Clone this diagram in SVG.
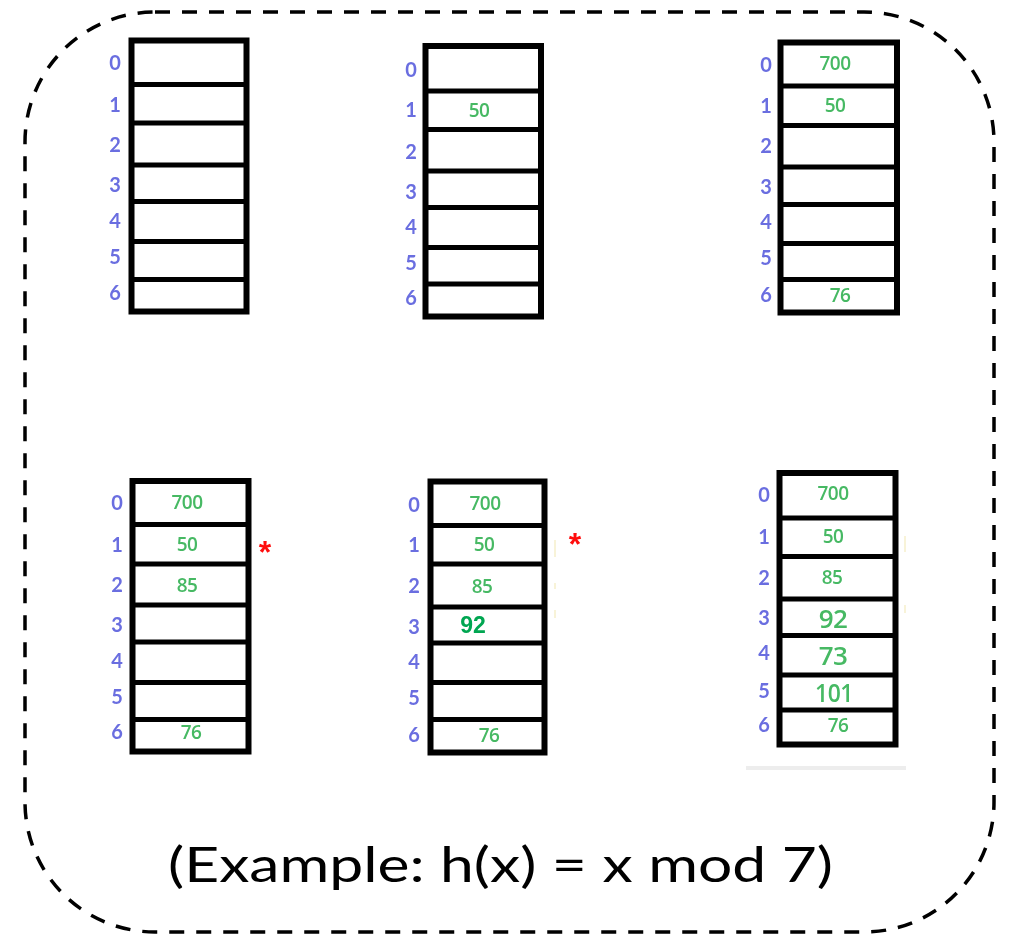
<svg xmlns="http://www.w3.org/2000/svg" width="1012" height="936" viewBox="0 0 1012 936">
  <style>
    .frame { fill: none; stroke: #000; stroke-width: 3.5; stroke-dasharray: 15 12; }
    .box { fill: #fff; stroke: #000; stroke-width: 6; }
    .sep { stroke: #000; stroke-width: 5; }
    .idx { font-family: Lato, "Open Sans", sans-serif; font-weight: bold; font-size: 20px; fill: #6a6ee0; text-anchor: middle; }
    .val { font-family: "Open Sans", Lato, sans-serif; font-weight: 600; font-size: 19px; fill: #46b964; text-anchor: middle; letter-spacing: -0.5px; }
    .big { font-size: 26px; }
    .bold92 { font-family: "Liberation Sans", Arial, sans-serif; font-weight: bold; font-size: 23px; fill: #00a651; text-anchor: middle; }
    .star { font-family: "Liberation Sans", Arial, sans-serif; font-weight: bold; font-size: 32px; fill: #ff1010; text-anchor: middle; }
    .title { font-family: Lato, "DejaVu Sans", sans-serif; font-size: 48px; fill: #000; }
    .tick { stroke: #f8f3d8; stroke-width: 2; }
    .soft { filter: url(#soft); }
  </style>
  <defs>
    <filter id="soft" x="-5%" y="-5%" width="110%" height="110%">
      <feGaussianBlur stdDeviation="0.5"/>
    </filter>
  </defs>

  <rect width="1012" height="936" fill="#fff"/>

  <!-- dashed rounded frame -->
  <rect class="frame" x="25" y="12" width="969" height="920" rx="130" ry="130"/>

  <!-- table: empty -->
  <g id="table-empty" class="soft">
    <rect class="box" x="131.5" y="40.5" width="115" height="271"/>
    <line class="sep" x1="131.5" x2="246.5" y1="84.5" y2="84.5"/>
    <line class="sep" x1="131.5" x2="246.5" y1="123" y2="123"/>
    <line class="sep" x1="131.5" x2="246.5" y1="165" y2="165"/>
    <line class="sep" x1="131.5" x2="246.5" y1="201.5" y2="201.5"/>
    <line class="sep" x1="131.5" x2="246.5" y1="241.5" y2="241.5"/>
    <line class="sep" x1="131.5" x2="246.5" y1="279.5" y2="279.5"/>
    <text class="idx" x="115" y="70.2">0</text>
    <text class="idx" x="115" y="112.2">1</text>
    <text class="idx" x="115" y="152.2">2</text>
    <text class="idx" x="115" y="192.2">3</text>
    <text class="idx" x="115" y="228.2">4</text>
    <text class="idx" x="115" y="264.2">5</text>
    <text class="idx" x="115" y="300.2">6</text>
  </g>

  <!-- table: insert 50 -->
  <g id="table-50" class="soft">
    <rect class="box" x="425.5" y="46" width="115.5" height="270.5"/>
    <line class="sep" x1="425.5" x2="541" y1="91" y2="91"/>
    <line class="sep" x1="425.5" x2="541" y1="129.5" y2="129.5"/>
    <line class="sep" x1="425.5" x2="541" y1="171" y2="171"/>
    <line class="sep" x1="425.5" x2="541" y1="207.5" y2="207.5"/>
    <line class="sep" x1="425.5" x2="541" y1="247.5" y2="247.5"/>
    <line class="sep" x1="425.5" x2="541" y1="284" y2="284"/>
    <text class="idx" x="411" y="77.2">0</text>
    <text class="idx" x="411" y="117.2">1</text>
    <text class="idx" x="411" y="159.2">2</text>
    <text class="idx" x="411" y="199.2">3</text>
    <text class="idx" x="411" y="234.2">4</text>
    <text class="idx" x="411" y="270.2">5</text>
    <text class="idx" x="411" y="305.2">6</text>
    <text class="val" x="479" y="117.2">50</text>
  </g>

  <!-- table: insert 700, 76 -->
  <g id="table-700-76" class="soft">
    <rect class="box" x="780.5" y="42.5" width="116.5" height="270"/>
    <line class="sep" x1="780.5" x2="897" y1="86" y2="86"/>
    <line class="sep" x1="780.5" x2="897" y1="125.5" y2="125.5"/>
    <line class="sep" x1="780.5" x2="897" y1="167" y2="167"/>
    <line class="sep" x1="780.5" x2="897" y1="204.5" y2="204.5"/>
    <line class="sep" x1="780.5" x2="897" y1="243.5" y2="243.5"/>
    <line class="sep" x1="780.5" x2="897" y1="279.5" y2="279.5"/>
    <text class="idx" x="766" y="72.2">0</text>
    <text class="idx" x="766" y="113.2">1</text>
    <text class="idx" x="766" y="153.2">2</text>
    <text class="idx" x="766" y="194.2">3</text>
    <text class="idx" x="766" y="229.2">4</text>
    <text class="idx" x="766" y="265.2">5</text>
    <text class="idx" x="766" y="302.2">6</text>
    <text class="val" x="835" y="70.2">700</text>
    <text class="val" x="835" y="112.2">50</text>
    <text class="val" x="840" y="302.2">76</text>
  </g>

  <!-- table: insert 85 (collision at 1) -->
  <g id="table-85" class="soft">
    <rect class="box" x="132.5" y="481" width="116" height="270.5"/>
    <line class="sep" x1="132.5" x2="248.5" y1="524.5" y2="524.5"/>
    <line class="sep" x1="132.5" x2="248.5" y1="564" y2="564"/>
    <line class="sep" x1="132.5" x2="248.5" y1="605" y2="605"/>
    <line class="sep" x1="132.5" x2="248.5" y1="642" y2="642"/>
    <line class="sep" x1="132.5" x2="248.5" y1="682.5" y2="682.5"/>
    <line class="sep" x1="132.5" x2="248.5" y1="719.5" y2="719.5"/>
    <text class="idx" x="117" y="510.2">0</text>
    <text class="idx" x="117" y="552.2">1</text>
    <text class="idx" x="117" y="592.2">2</text>
    <text class="idx" x="117" y="632.2">3</text>
    <text class="idx" x="117" y="668.2">4</text>
    <text class="idx" x="117" y="704.2">5</text>
    <text class="idx" x="117" y="739.2">6</text>
    <text class="val" x="187" y="509.2">700</text>
    <text class="val" x="187" y="551.2">50</text>
    <text class="val" x="187" y="592.2">85</text>
    <text class="val" x="191" y="739.2">76</text>
    <text class="star" x="265" y="563">*</text>
  </g>

  <!-- table: insert 92 (collision at 1) -->
  <g id="table-92" class="soft">
    <rect class="box" x="430.5" y="481.5" width="114" height="271"/>
    <line class="sep" x1="430.5" x2="544.5" y1="525.5" y2="525.5"/>
    <line class="sep" x1="430.5" x2="544.5" y1="564" y2="564"/>
    <line class="sep" x1="430.5" x2="544.5" y1="607" y2="607"/>
    <line class="sep" x1="430.5" x2="544.5" y1="643" y2="643"/>
    <line class="sep" x1="430.5" x2="544.5" y1="682.5" y2="682.5"/>
    <line class="sep" x1="430.5" x2="544.5" y1="719.5" y2="719.5"/>
    <text class="idx" x="414" y="512.2">0</text>
    <text class="idx" x="414" y="552.2">1</text>
    <text class="idx" x="414" y="593.2">2</text>
    <text class="idx" x="414" y="634.2">3</text>
    <text class="idx" x="414" y="669.2">4</text>
    <text class="idx" x="414" y="705.2">5</text>
    <text class="idx" x="414" y="742.2">6</text>
    <text class="val" x="485" y="510.2">700</text>
    <text class="val" x="484" y="551.2">50</text>
    <text class="val" x="482" y="593.2">85</text>
    <text class="bold92" x="473" y="633">92</text>
    <text class="val" x="489" y="742.2">76</text>
    <line class="tick" x1="555" x2="555" y1="540" y2="557"/>
    <line class="tick" x1="555" x2="555" y1="583" y2="589"/>
    <line class="tick" x1="555" x2="555" y1="610" y2="618"/>
    <text class="star" x="575" y="555">*</text>
  </g>

  <!-- table: insert 73, 101 -->
  <g id="table-final" class="soft">
    <rect class="box" x="779.5" y="473" width="116" height="271.5"/>
    <line class="sep" x1="779.5" x2="895.5" y1="518" y2="518"/>
    <line class="sep" x1="779.5" x2="895.5" y1="556.5" y2="556.5"/>
    <line class="sep" x1="779.5" x2="895.5" y1="599" y2="599"/>
    <line class="sep" x1="779.5" x2="895.5" y1="635.5" y2="635.5"/>
    <line class="sep" x1="779.5" x2="895.5" y1="675" y2="675"/>
    <line class="sep" x1="779.5" x2="895.5" y1="710" y2="710"/>
    <text class="idx" x="764" y="502.2">0</text>
    <text class="idx" x="764" y="544.2">1</text>
    <text class="idx" x="764" y="585.2">2</text>
    <text class="idx" x="764" y="625.2">3</text>
    <text class="idx" x="764" y="660.2">4</text>
    <text class="idx" x="764" y="698.2">5</text>
    <text class="idx" x="764" y="732.2">6</text>
    <text class="val" x="833" y="500.2">700</text>
    <text class="val" x="833" y="543.2">50</text>
    <text class="val" x="832" y="584.2">85</text>
    <text class="val big" x="833" y="627.7">92</text>
    <text class="val big" x="833" y="664.7">73</text>
    <text class="val big" x="834" y="701.7" textLength="38" lengthAdjust="spacingAndGlyphs">101</text>
    <text class="val" x="838" y="732.2">76</text>
    <line class="tick" x1="905" x2="905" y1="536" y2="552"/>
    <line class="tick" x1="905" x2="905" y1="605" y2="613"/>
    <rect x="746" y="766" width="160" height="4" fill="#ededed"/>
  </g>

  <!-- caption -->
  <text class="title" x="168" y="882" textLength="665" lengthAdjust="spacingAndGlyphs">(Example: h(x) = x mod 7)</text>
</svg>
